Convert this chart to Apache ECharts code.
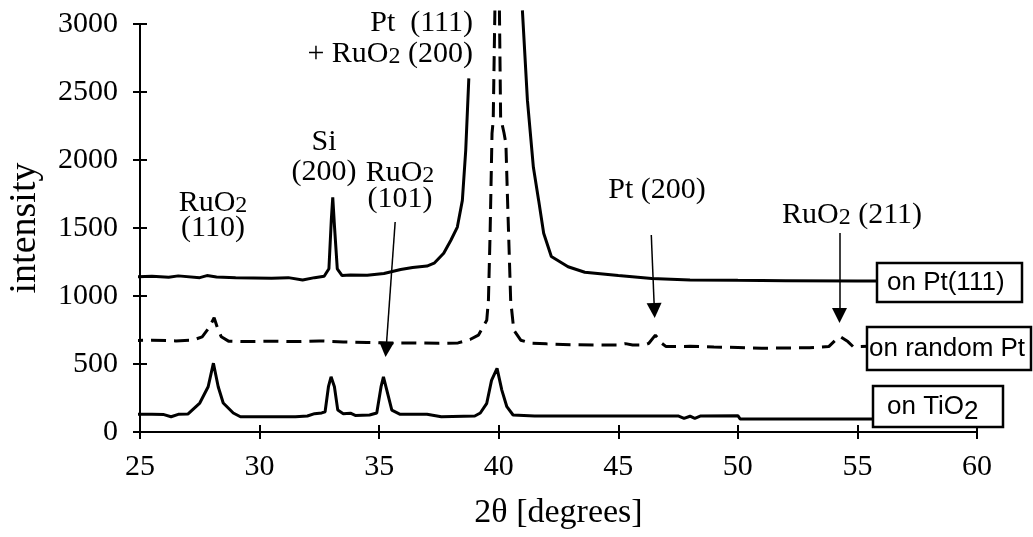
<!DOCTYPE html>
<html>
<head>
<meta charset="utf-8">
<title>XRD patterns</title>
<script src="https://cdn.jsdelivr.net/npm/echarts@6/dist/echarts.min.js"></script>
<style>
  html, body { margin: 0; padding: 0; background: #fff; }
  #chart { width: 1033px; height: 537px; }
</style>
</head>
<body>
<div id="chart"></div>
<script>
// on Pt(111) - solid, peak clipped above the plot
const ptTheta = [24.5, 25.5, 26.2, 26.6, 27.5, 27.8, 28.2, 29.0, 30.5, 31.2, 31.8, 32.3, 32.7, 32.9, 33.0, 33.06, 33.13, 33.25, 33.45, 33.8, 34.5, 35.2, 35.9, 36.4, 37.0, 37.3, 37.7, 38.0, 38.27, 38.48, 38.62, 38.75, 39.8, 40.99, 41.2, 41.45, 41.67, 41.88, 42.2, 42.9, 43.6, 45.0, 46.4, 48.0, 50.0, 52.0, 55.0, 60.0]
const ptIntensity = [1140, 1145, 1138, 1148, 1135, 1150, 1140, 1135, 1130, 1135, 1118, 1135, 1145, 1200, 1560, 1725, 1520, 1200, 1150, 1155, 1152, 1165, 1195, 1210, 1220, 1241, 1314, 1410, 1507, 1703, 2070, 2600, '-', 3100, 2440, 1946, 1703, 1461, 1290, 1215, 1175, 1150, 1128, 1118, 1115, 1113, 1111, 1110]

// on random Pt - dashed
const randTheta = [24.5, 25.5, 26.5, 27.2, 27.6, 27.9, 28.1, 28.25, 28.4, 28.7, 29.5, 30.5, 31.5, 32.5, 33.5, 34.5, 35.5, 36.5, 37.5, 38.3, 38.8, 39.15, 39.5, 39.57, 39.64, 39.72, 39.77, 39.84, 39.94, 40.03, 40.08, 40.22, 40.3, 40.37, 40.5, 40.63, 40.92, 41.34, 42.0, 43.0, 44.0, 45.0, 45.3, 45.6, 46.1, 46.27, 46.55, 46.83, 47.0, 48.0, 49.0, 50.0, 51.0, 52.0, 53.0, 53.8, 54.08, 54.29, 54.6, 54.83, 55.5, 60.0]
const randIntensity = [672, 675, 670, 675, 700, 770, 840, 760, 700, 668, 665, 668, 665, 670, 662, 658, 655, 655, 652, 655, 680, 712, 822, 969, 1461, 2195, 2291, 3100, '-', 3100, 2313, 2200, 2122, 1703, 969, 750, 675, 653, 648, 642, 640, 640, 650, 640, 640, 651, 712, 651, 628, 630, 625, 622, 615, 618, 620, 628, 675, 700, 665, 626, 630, 630]

// on TiO2 - solid
const tioTheta = [24.5, 25.5, 26.0, 26.3, 26.6, 27.0, 27.5, 27.85, 28.07, 28.27, 28.48, 28.9, 29.2, 30.5, 31.5, 32.0, 32.3, 32.6, 32.74, 32.88, 32.99, 33.13, 33.27, 33.5, 33.8, 34.0, 34.6, 34.9, 35.08, 35.18, 35.32, 35.53, 35.88, 37.0, 37.6, 39.0, 39.23, 39.5, 39.7, 39.93, 40.13, 40.34, 40.6, 41.5, 44.0, 47.5, 47.75, 48.0, 48.2, 48.45, 50.0, 50.1, 60.0]
const tioIntensity = [130, 130, 128, 112, 130, 132, 213, 333, 506, 333, 213, 140, 112, 112, 112, 118, 135, 140, 149, 333, 406, 333, 161, 135, 138, 122, 125, 140, 333, 406, 308, 161, 130, 130, 112, 118, 140, 211, 380, 468, 308, 186, 125, 118, 118, 118, 100, 116, 100, 118, 120, 95, 95]

const xTicks = { min: 25, max: 60, interval: 5 }
const yTicks = { min: 0, max: 3000, interval: 500 }

// arrows pointing at the weak peaks (data coords)
const arrows = [
  [[35.67, 1544], [35.29, 607]],
  [[46.38, 1449], [46.51, 893]],
  [[54.25, 1463], [54.25, 857]]
]

const zip = (xs, ys) => xs.map((x, i) => [x, ys[i]])

const serif = 'Liberation Serif'
const sans = 'Liberation Sans'

const chart = echarts.init(document.getElementById('chart'))

const peakText = (x, y, text, align) => ({
  type: 'text',
  x: x,
  y: y,
  z: 100,
  style: {
    text: text,
    fontFamily: serif,
    fontSize: 30,
    fill: '#000',
    align: align || 'center',
    verticalAlign: 'middle',
    rich: {
      s: { fontFamily: serif, fontSize: 24, verticalAlign: 'bottom', fill: '#000' }
    }
  }
})

const labelBox = (x, y, w, h, text, tx) => ({
  type: 'group',
  children: [
    {
      type: 'rect',
      z: 100,
      shape: { x: x, y: y, width: w, height: h },
      style: { fill: '#fff', stroke: '#000', lineWidth: 2.5 }
    },
    {
      type: 'text',
      z: 101,
      x: tx,
      y: y + h / 2,
      style: { text: text, fontFamily: sans, fontSize: 26, fill: '#000', align: 'left', verticalAlign: 'middle' }
    }
  ]
})

const solidLine = { color: '#000', width: 3 }

const option = {
  backgroundColor: '#fff',
  animation: false,
  grid: { left: 140, right: 56, top: 24, bottom: 105, containLabel: false, outerBoundsMode: 'none' },
  xAxis: [
    {
      type: 'value',
      ...xTicks,
      name: '2θ [degrees]',
      nameLocation: 'middle',
      nameGap: 64,
      nameTextStyle: { fontFamily: serif, fontSize: 34, color: '#000' },
      axisLine: { lineStyle: { color: '#000', width: 2 } },
      axisTick: { length: 7, lineStyle: { color: '#000', width: 2 } },
      axisLabel: { margin: 20, fontFamily: serif, fontSize: 30, color: '#000' },
      splitLine: { show: false }
    },
    {
      // inner half of the crossing ticks
      type: 'value',
      ...xTicks,
      position: 'bottom',
      axisLine: { show: false },
      axisTick: { inside: true, length: 7, lineStyle: { color: '#000', width: 2 } },
      axisLabel: { show: false },
      splitLine: { show: false }
    }
  ],
  yAxis: [
    {
      type: 'value',
      ...yTicks,
      name: 'intensity',
      nameLocation: 'middle',
      nameGap: 96,
      nameTextStyle: { fontFamily: serif, fontSize: 38, color: '#000' },
      axisLine: { show: true, lineStyle: { color: '#000', width: 2 } },
      axisTick: { show: true, length: 7, lineStyle: { color: '#000', width: 2 } },
      axisLabel: { margin: 22, fontFamily: serif, fontSize: 30, color: '#000', formatter: v => String(v) },
      splitLine: { show: false }
    },
    {
      type: 'value',
      ...yTicks,
      position: 'left',
      axisLine: { show: false },
      axisTick: { show: true, inside: true, length: 7, lineStyle: { color: '#000', width: 2 } },
      axisLabel: { show: false },
      splitLine: { show: false }
    }
  ],
  series: [
    {
      name: 'on Pt(111)',
      type: 'line',
      data: zip(ptTheta, ptIntensity),
      showSymbol: false,
      clip: false,
      connectNulls: false,
      lineStyle: solidLine,
      markLine: {
        silent: true,
        symbol: ['none', 'triangle'],
        symbolSize: [15, 15],
        label: { show: false },
        lineStyle: { color: '#000', width: 1.5, type: 'solid' },
        data: arrows.map(a => [{ coord: a[0] }, { coord: a[1] }])
      }
    },
    {
      name: 'on random Pt',
      type: 'line',
      data: zip(randTheta, randIntensity),
      showSymbol: false,
      clip: false,
      connectNulls: false,
      lineStyle: { color: '#000', width: 3, type: [15, 8] }
    },
    {
      name: 'on TiO2',
      type: 'line',
      data: zip(tioTheta, tioIntensity),
      showSymbol: false,
      clip: false,
      lineStyle: solidLine
    }
  ],
  graphic: [
    peakText(473, 23, 'Pt  (111)', 'right'),
    peakText(473, 54, '+ RuO{s|2} (200)', 'right'),
    peakText(324, 142, 'Si'),
    peakText(324, 172, '(200)'),
    peakText(213, 203, 'RuO{s|2}'),
    peakText(213, 228, '(110)'),
    peakText(400, 173, 'RuO{s|2}'),
    peakText(400, 199, '(101)'),
    peakText(657, 190, 'Pt (200)'),
    peakText(852, 215, 'RuO{s|2} (211)'),
    labelBox(877, 263, 145, 39, 'on Pt(111)', 887),
    labelBox(867, 327, 164, 43, 'on random Pt', 869),
    labelBox(873, 386, 130, 41, 'on TiO', 887),
    {
      type: 'text',
      x: 964,
      y: 412,
      z: 102,
      style: { text: '2', fontFamily: sans, fontSize: 26, fill: '#000', align: 'left', verticalAlign: 'middle' }
    }
  ]
}

chart.setOption(option)

window.addEventListener('resize', () => chart.resize())
</script>
</body>
</html>
